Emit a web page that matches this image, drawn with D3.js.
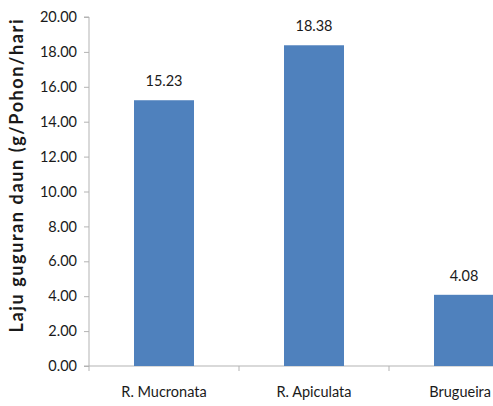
<!DOCTYPE html>
<html>
<head>
<meta charset="utf-8">
<script src="https://cdn.jsdelivr.net/npm/d3@7"></script>
<style>
  html, body { margin: 0; padding: 0; background: #fff; }
  svg { display: block; }
  text { font-family: Lato, "Open Sans", sans-serif; fill: #1a1a1a; }
</style>
</head>
<body>
<svg id="chart" width="493" height="406"></svg>
<script>
// Leaf-fall rate per species
const categories = ["R. Mucronata", "R. Apiculata", "Brugueira"];
const values = [15.23, 18.38, 4.08];
const yTicks = [0, 2, 4, 6, 8, 10, 12, 14, 16, 18, 20];
const yTitle = "Laju guguran daun (g/Pohon/hari";

const svg = d3.select("#chart");
const W = 493;
const margin = { left: 89, top: 17, bottom: 366 };
const bandStep = 150;
const fontSize = "14.5px";

const x = d3.scaleBand()
  .domain(categories)
  .range([margin.left, margin.left + bandStep * categories.length])
  .paddingInner(0.6)
  .paddingOuter(0.3);

const y = d3.scaleLinear().domain([0, 20]).range([margin.bottom, margin.top]);

const axisColor = "#b3b3b3";

// Y axis
const yAxis = svg.append("g")
  .attr("transform", `translate(${margin.left},0)`)
  .call(d3.axisLeft(y).tickValues(yTicks).tickFormat(d3.format(".2f")).tickSize(5).tickPadding(7));
yAxis.select(".domain").attr("stroke", axisColor).attr("d", `M-5,${y(20)}H0V${y(0)}`);
yAxis.selectAll(".tick line").attr("stroke", axisColor);
yAxis.selectAll(".tick text").style("font-size", fontSize).attr("fill", "#1a1a1a");

// X axis baseline with tick marks at band boundaries
const bounds = categories.map((c, i) => margin.left + i * bandStep);
const xg = svg.append("g");
xg.append("line")
  .attr("x1", margin.left - 5).attr("x2", margin.left + bandStep * categories.length)
  .attr("y1", y(0)).attr("y2", y(0))
  .attr("stroke", axisColor);
xg.selectAll("line.tk").data(bounds).join("line").attr("class", "tk")
  .attr("x1", d => d).attr("x2", d => d)
  .attr("y1", y(0)).attr("y2", y(0) + 5)
  .attr("stroke", axisColor);
xg.selectAll("text").data(categories).join("text")
  .attr("x", d => x(d) + x.bandwidth() / 2)
  .attr("y", y(0) + 31)
  .attr("text-anchor", "middle")
  .style("font-size", fontSize)
  .text(d => d)
  .each(function () {
    // keep the last label inside the visible width
    const w = this.getComputedTextLength();
    const cx = +this.getAttribute("x");
    if (cx + w / 2 > W - 2) this.setAttribute("x", W - 2 - w / 2);
  });

// Bars
svg.selectAll("rect.bar").data(values).join("rect").attr("class", "bar")
  .attr("x", (d, i) => x(categories[i]))
  .attr("width", x.bandwidth())
  .attr("y", d => y(d))
  .attr("height", d => y(0) - y(d))
  .attr("fill", "#4f81bd");

// Value labels
svg.selectAll("text.val").data(values).join("text").attr("class", "val")
  .attr("x", (d, i) => x(categories[i]) + x.bandwidth() / 2)
  .attr("y", d => y(d) - 14)
  .attr("text-anchor", "middle")
  .style("font-size", fontSize)
  .text(d => d.toFixed(2));

// Y axis title
svg.append("text")
  .attr("transform", "translate(23,176) rotate(-90)")
  .attr("text-anchor", "middle")
  .attr("textLength", 313)
  .attr("lengthAdjust", "spacing")
  .style("font-size", "18px")
  .style("font-weight", "bold")
  .text(yTitle);
</script>
</body>
</html>
